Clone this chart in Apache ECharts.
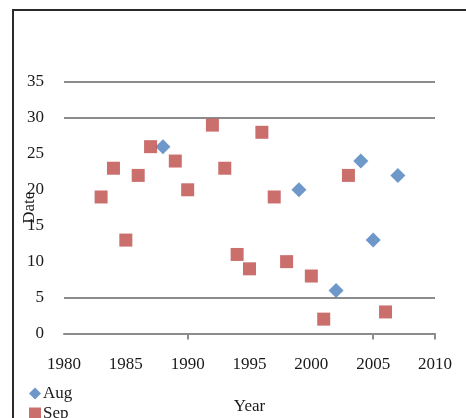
<!DOCTYPE html>
<html>
<head>
<meta charset="utf-8">
<script src="https://cdn.jsdelivr.net/npm/echarts@6/dist/echarts.min.js"></script>
<style>html,body{margin:0;padding:0;background:#fff;}#c{width:466px;height:418px;}</style>
</head>
<body>
<div id="c"></div>
<script>
const augYears = [1988, 1999, 2002, 2004, 2005, 2007];
const augValues = [26, 20, 6, 24, 13, 22];
const sepYears = [1983, 1984, 1985, 1986, 1987, 1989, 1990, 1992, 1993, 1994, 1995, 1996, 1997, 1998, 2000, 2001, 2003, 2006];
const sepValues = [19, 23, 13, 22, 26, 24, 20, 29, 23, 11, 9, 28, 19, 10, 8, 2, 22, 3];
const xTicks = [1980, 1985, 1990, 1995, 2000, 2005, 2010];
const yTicks = [0, 5, 10, 15, 20, 25, 30, 35];

const font = 'Liberation Serif';
const txt = '#1a1a1a';
const chart = echarts.init(document.getElementById('c'), null, {renderer: 'canvas'});
chart.setOption({
  animation: false,
  backgroundColor: '#fff',
  graphic: [{
    type: 'rect', shape: {x: 13, y: 10, width: 520, height: 520},
    style: {fill: 'none', stroke: '#2a2a2a', lineWidth: 2}
  }],
  grid: {left: 64, right: 31, top: 82, bottom: 84.5, outerBoundsMode: 'none'},
  legend: {
    orient: 'vertical', left: 29, top: 385, height: 60, padding: 0, itemGap: 3, itemWidth: 12, itemHeight: 12,
    textStyle: {fontFamily: font, fontSize: 17, color: txt, padding: [0, 0, 0, -3]},
    data: [{name: 'Aug', icon: 'diamond'}, {name: 'Sep', icon: 'rect'}]
  },
  xAxis: {
    type: 'value', min: xTicks[0], max: xTicks[xTicks.length - 1], interval: 5,
    name: 'Year', nameLocation: 'middle', nameGap: 65, nameMoveOverlap: false,
    nameTextStyle: {fontFamily: font, fontSize: 17, color: txt},
    axisLine: {show: true, lineStyle: {color: '#8c8c8c', width: 2}},
    axisTick: {show: true, length: 6, lineStyle: {color: '#8c8c8c', width: 2}, customValues: [1990, 2005, 2010]},
    axisLabel: {margin: 23, fontFamily: font, fontSize: 17, color: txt, customValues: xTicks, formatter: v => String(v)},
    splitLine: {show: false}
  },
  yAxis: {
    type: 'value', min: yTicks[0], max: yTicks[yTicks.length - 1], interval: 5,
    name: 'Date', nameLocation: 'middle', nameGap: 26, nameRotate: 90, nameMoveOverlap: false,
    nameTextStyle: {fontFamily: font, fontSize: 17, color: txt},
    axisLine: {show: false}, axisTick: {show: false},
    axisLabel: {margin: 20, fontFamily: font, fontSize: 17, color: txt},
    splitLine: {show: true, lineStyle: {width: 2, color: ['#8c8c8c', '#8c8c8c', 'rgba(0,0,0,0)', 'rgba(0,0,0,0)', 'rgba(0,0,0,0)', 'rgba(0,0,0,0)', '#8c8c8c', '#8c8c8c']}}
  },
  series: [
    {name: 'Aug', type: 'scatter', symbol: 'diamond', symbolSize: 15,
     itemStyle: {color: '#4a7ebb'}, data: augYears.map((y, i) => [y, augValues[i]])},
    {name: 'Sep', type: 'scatter', symbol: 'rect', symbolSize: 13,
     itemStyle: {color: '#be4b48'}, data: sepYears.map((y, i) => [y, sepValues[i]])}
  ]
});
</script>
</body>
</html>
